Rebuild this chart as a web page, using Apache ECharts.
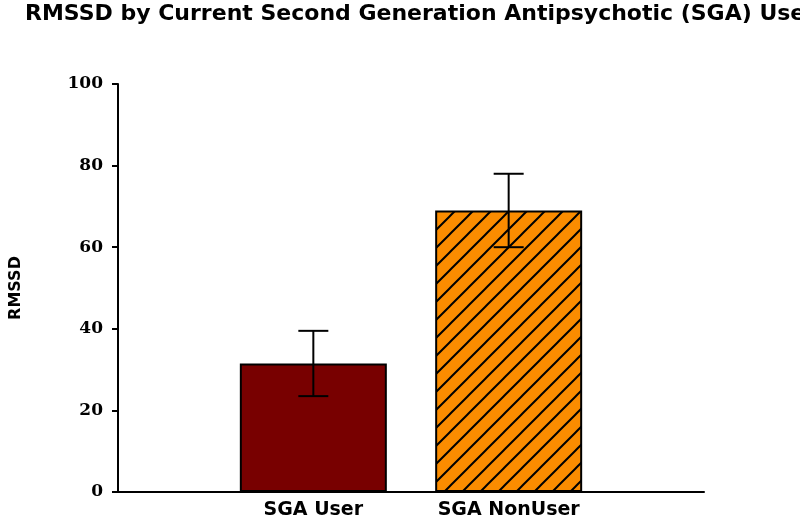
<!DOCTYPE html>
<html>
<head>
<meta charset="utf-8">
<script src="https://cdn.jsdelivr.net/npm/echarts@6/dist/echarts.min.js"></script>
<style>
  html, body { margin: 0; padding: 0; background: #fff; }
  #main { width: 800px; height: 527px; }
</style>
</head>
<body>
<div id="main"></div>
<script>
// data
var groups = ['SGA User', 'SGA NonUser'];
var groupPos = [1, 2];
var means = [31.5, 69];
var errLow = [23.5, 60];
var errHigh = [39.5, 78];
var yTicks = [0, 20, 40, 60, 80, 100];

// hatch pattern for the NonUser bar
function hatch() {
    var c = document.createElement('canvas');
    c.width = 18; c.height = 18;
    var ctx = c.getContext('2d');
    ctx.fillStyle = '#fb8c00';
    ctx.fillRect(0, 0, 18, 18);
    ctx.strokeStyle = '#000';
    ctx.lineWidth = 2;
    ctx.beginPath();
    ctx.moveTo(-2, 20); ctx.lineTo(20, -2);
    ctx.moveTo(-2, 2); ctx.lineTo(2, -2);
    ctx.moveTo(16, 20); ctx.lineTo(20, 16);
    ctx.stroke();
    return c;
}
var fills = ['#780000', { image: hatch(), repeat: 'repeat' }];

var sans = 'DejaVu Sans';

var chart = echarts.init(document.getElementById('main'));
chart.setOption({
    animation: false,
    title: {
        text: 'RMSSD by Current Second Generation Antipsychotic (SGA) Use',
        left: 20, top: -2,
        textStyle: { fontFamily: sans, fontWeight: 'bold', fontSize: 22, color: '#000' }
    },
    grid: { left: 116, right: 96, top: 84, bottom: 35 },
    xAxis: {
        type: 'value', min: 0, max: 3, interval: 1,
        splitLine: { show: false },
        axisTick: { show: false },
        axisLine: { lineStyle: { color: '#000', width: 2 } },
        axisLabel: {
            margin: 9,
            fontFamily: sans, fontWeight: 'bold', fontSize: 19, color: '#000',
            formatter: function (v) {
                var i = groupPos.indexOf(v);
                return i >= 0 ? groups[i] : '';
            }
        }
    },
    yAxis: {
        type: 'value', min: yTicks[0], max: yTicks[yTicks.length - 1], interval: 20,
        name: 'RMSSD', nameLocation: 'middle', nameGap: 94, nameRotate: 90,
        nameTextStyle: { fontFamily: sans, fontWeight: 'bold', fontSize: 16, color: '#000' },
        splitLine: { show: false },
        axisLine: { show: true, lineStyle: { color: '#000', width: 2 } },
        axisTick: { show: true, length: 6, lineStyle: { color: '#000', width: 2 } },
        axisLabel: {
            margin: 15,
            fontFamily: 'DejaVu Serif', fontWeight: 'bold', fontSize: 17, color: '#000'
        }
    },
    series: [
        {
            type: 'bar',
            barWidth: 147,
            data: means.map(function (m, i) {
                return {
                    value: [groupPos[i], m],
                    itemStyle: { color: fills[i], borderColor: '#000', borderWidth: 2 }
                };
            })
        },
        {
            type: 'custom',
            z: 5,
            data: means.map(function (m, i) { return [groupPos[i], errLow[i], errHigh[i]]; }),
            renderItem: function (params, api) {
                var lo = api.coord([api.value(0), api.value(1)]);
                var hi = api.coord([api.value(0), api.value(2)]);
                var w = 15;
                var st = { stroke: '#000', lineWidth: 2 };
                return {
                    type: 'group',
                    children: [
                        { type: 'line', shape: { x1: lo[0], y1: lo[1], x2: hi[0], y2: hi[1] }, style: st },
                        { type: 'line', shape: { x1: lo[0] - w, y1: lo[1], x2: lo[0] + w, y2: lo[1] }, style: st },
                        { type: 'line', shape: { x1: hi[0] - w, y1: hi[1], x2: hi[0] + w, y2: hi[1] }, style: st }
                    ]
                };
            }
        }
    ]
});
</script>
</body>
</html>
